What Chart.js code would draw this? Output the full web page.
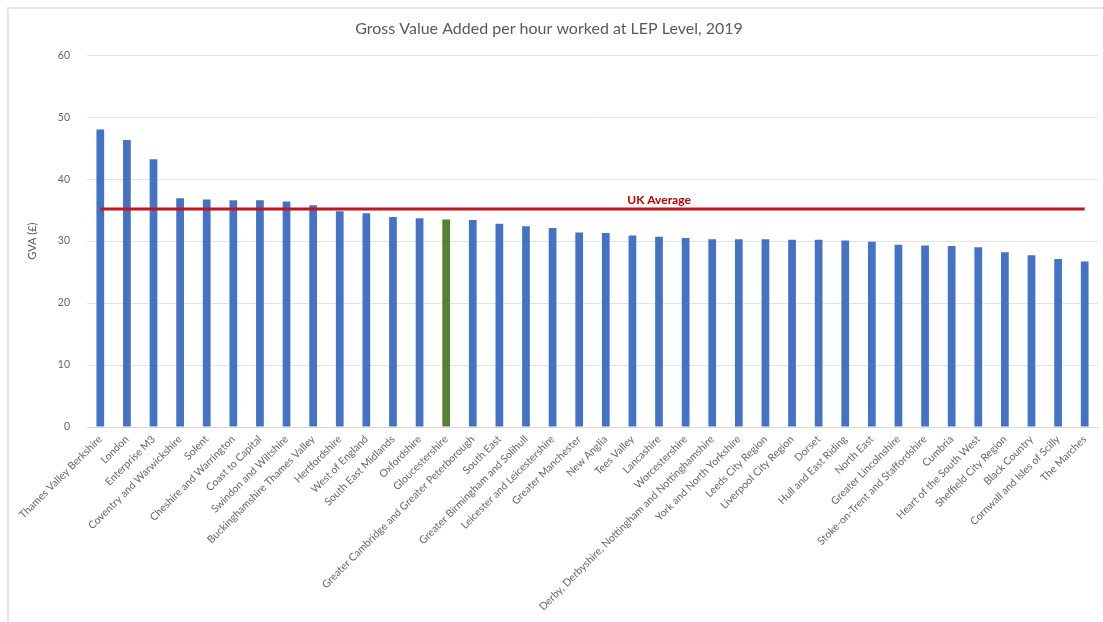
<!DOCTYPE html>
<html lang="en">
<head>
  <meta charset="UTF-8">
  <title>GVA per hour worked at LEP Level, 2019</title>
  <script src="https://cdn.jsdelivr.net/npm/chart.js"></script>
  <style>
    html, body {
      margin: 0;
      padding: 0;
      background: #fff;
      overflow: hidden;
    }
    #frame {
      position: absolute;
      left: 7px;
      top: 7px;
      width: 1200px;
      height: 700px;
      border-top: 2px solid #e6e6e6;
      border-left: 2px solid #e6e6e6;
    }
    #gvaChart {
      position: absolute;
      left: 0;
      top: 0;
    }
  </style>
</head>
<body>
  <div id="frame"></div>
  <canvas id="gvaChart" width="1103" height="622"></canvas>

  <script>
    const leps = [
      'Thames Valley Berkshire', 'London', 'Enterprise M3', 'Coventry and Warwickshire',
      'Solent', 'Cheshire and Warrington', 'Coast to Capital', 'Swindon and Wiltshire',
      'Buckinghamshire Thames Valley', 'Hertfordshire', 'West of England', 'South East Midlands',
      'Oxfordshire', 'Gloucestershire', 'Greater Cambridge and Greater Peterborough', 'South East',
      'Greater Birmingham and Solihull', 'Leicester and Leicestershire', 'Greater Manchester',
      'New Anglia', 'Tees Valley', 'Lancashire', 'Worcestershire',
      'Derby, Derbyshire, Nottingham and Nottinghamshire', 'York and North Yorkshire',
      'Leeds City Region', 'Liverpool City Region', 'Dorset', 'Hull and East Riding',
      'North East', 'Greater Lincolnshire', 'Stoke-on-Trent and Staffordshire', 'Cumbria',
      'Heart of the South West', 'Sheffield City Region', 'Black Country',
      'Cornwall and Isles of Scilly', 'The Marches'
    ];
    const gvaPerHour = [
      48.0, 46.3, 43.2, 36.9, 36.7, 36.6, 36.6, 36.4, 35.8, 34.8,
      34.5, 33.9, 33.7, 33.5, 33.4, 32.8, 32.4, 32.1, 31.4, 31.3,
      30.9, 30.7, 30.5, 30.3, 30.3, 30.3, 30.2, 30.2, 30.1, 29.9,
      29.4, 29.3, 29.2, 29.0, 28.2, 27.7, 27.1, 26.7
    ];
    const ukAverage = 35.2;
    const highlighted = 'Gloucestershire';
    const avgLabelAt = 'Lancashire';

    const barColors = leps.map(name => name === highlighted ? '#548235' : '#4472c4');

    // writes "UK Average" just above the red line
    const avgLabel = {
      id: 'avgLabel',
      afterDatasetsDraw(chart) {
        const { ctx, scales } = chart;
        const x = scales.x.getPixelForValue(leps.indexOf(avgLabelAt));
        const y = scales.y.getPixelForValue(ukAverage) - 9;
        ctx.save();
        ctx.font = 'bold 12px Lato';
        ctx.fillStyle = '#c00000';
        ctx.textAlign = 'center';
        ctx.textBaseline = 'middle';
        ctx.fillText('UK Average', x, y);
        ctx.restore();
      }
    };

    new Chart(document.getElementById('gvaChart'), {
      data: {
        labels: leps,
        datasets: [
          {
            type: 'line',
            label: 'UK Average',
            data: leps.map(() => ukAverage),
            borderColor: '#c3161c',
            borderWidth: 3,
            pointRadius: 0,
            fill: false,
            order: 0
          },
          {
            type: 'bar',
            label: 'GVA per hour worked',
            data: gvaPerHour,
            backgroundColor: barColors,
            categoryPercentage: 1,
            barPercentage: 0.29,
            order: 1
          }
        ]
      },
      plugins: [avgLabel],
      options: {
        responsive: false,
        animation: false,
        layout: { padding: { left: 0, right: 5, top: 0, bottom: 0 } },
        plugins: {
          legend: { display: false },
          tooltip: { enabled: false },
          title: {
            display: true,
            text: 'Gross Value Added per hour worked at LEP Level, 2019',
            color: '#595959',
            font: { family: 'Lato', size: 16, weight: 'normal' },
            padding: { top: 19, bottom: 17 }
          }
        },
        scales: {
          x: {
            grid: { display: false, drawTicks: false },
            border: { color: '#d9d9d9' },
            ticks: {
              autoSkip: false,
              minRotation: 45,
              maxRotation: 45,
              padding: 6,
              color: '#666',
              font: { family: 'Lato', size: 10.5 }
            },
            afterFit(scale) { scale.height = 195; }
          },
          y: {
            min: 0,
            max: 60,
            ticks: {
              stepSize: 10,
              padding: 17,
              color: '#666',
              font: { family: 'Lato', size: 10.5 }
            },
            grid: { color: '#e3e3e3', drawTicks: false },
            border: { display: false },
            title: {
              display: true,
              text: 'GVA (£)',
              color: '#595959',
              font: { family: 'Lato', size: 11 },
              padding: { top: 26, bottom: 0 }
            },
            afterFit(scale) { scale.width = 87; }
          }
        }
      }
    });
  </script>
</body>
</html>
